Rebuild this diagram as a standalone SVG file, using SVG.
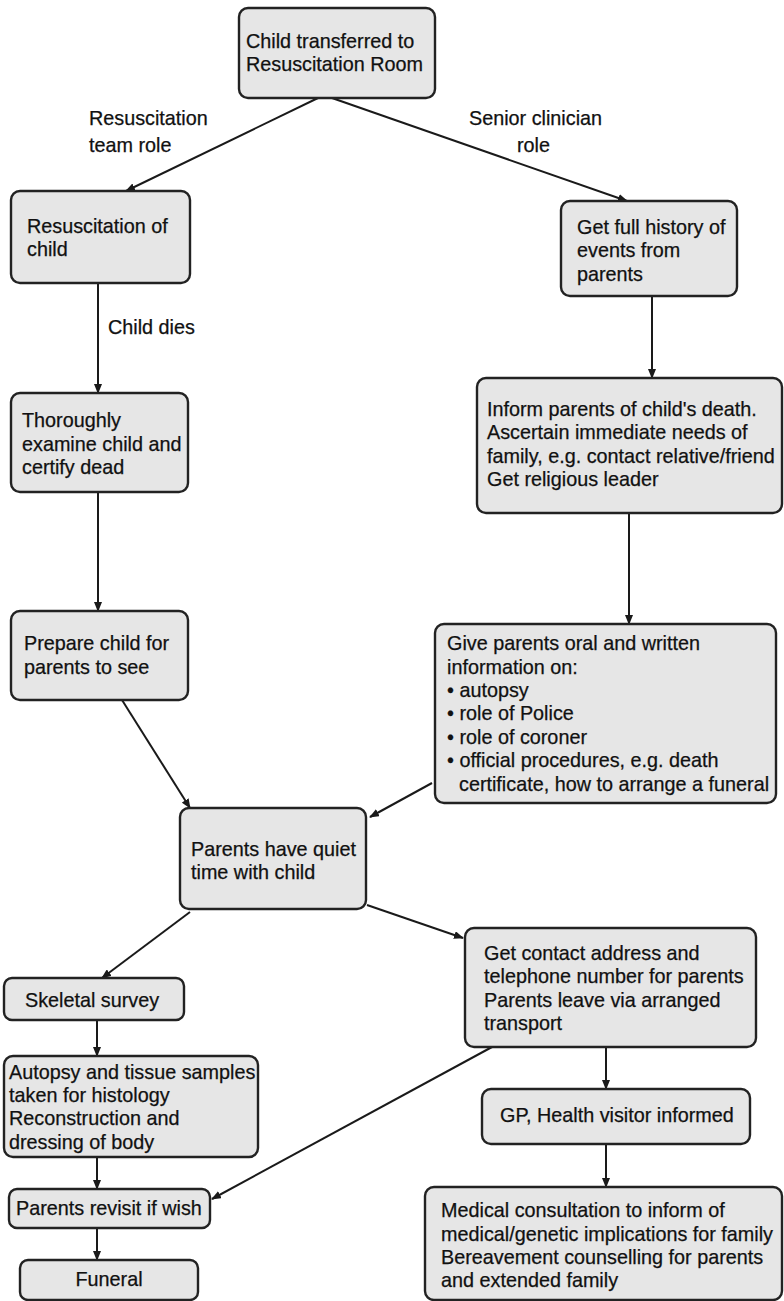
<svg xmlns="http://www.w3.org/2000/svg" width="784" height="1301" viewBox="0 0 784 1301">
<defs>
<marker id="ah" markerWidth="10" markerHeight="8" refX="9" refY="4" orient="auto" markerUnits="userSpaceOnUse">
<path d="M0,0 L10,4 L0,8 Z" fill="#1a1a1a"/>
</marker>
<style>
.box{fill:#e6e6e6;stroke:#222;stroke-width:2.4}
text{font-family:"Liberation Sans",Arial,sans-serif;font-size:19.8px;fill:#111;stroke:#111;stroke-width:0.25}
.c line{stroke:#1a1a1a;stroke-width:2;marker-end:url(#ah)}
</style>
</defs>
<rect width="784" height="1301" fill="#fff"/>
<g id="connectors" class="c">
<line x1="318" y1="98" x2="126" y2="191"/>
<line x1="332" y1="98" x2="627" y2="201"/>
<line x1="98" y1="283" x2="98" y2="393"/>
<line x1="98" y1="492" x2="98" y2="611"/>
<line x1="652" y1="296" x2="652" y2="378"/>
<line x1="629" y1="513" x2="629" y2="624"/>
<line x1="122" y1="700" x2="190" y2="808"/>
<line x1="432" y1="783" x2="370" y2="817"/>
<line x1="367" y1="905" x2="463" y2="938"/>
<line x1="190" y1="912" x2="102" y2="978"/>
<line x1="97" y1="1020" x2="97" y2="1056"/>
<line x1="97" y1="1157" x2="97" y2="1189"/>
<line x1="97" y1="1228" x2="97" y2="1260"/>
<line x1="492" y1="1047" x2="212" y2="1199"/>
<line x1="606" y1="1047" x2="606" y2="1089"/>
<line x1="606" y1="1144" x2="606" y2="1187"/>
</g>
<g id="labels">
<text x="89" y="125">Resuscitation</text>
<text x="89" y="152">team role</text>
<text x="469" y="125">Senior clinician</text>
<text x="517" y="152">role</text>
<text x="108" y="334">Child dies</text>
</g>
<g id="n-top"><rect class="box" x="239" y="8" width="196" height="90" rx="9"/>
<text x="246" y="48">Child transferred to</text><text x="246" y="71">Resuscitation Room</text></g>
<g id="n-resus"><rect class="box" x="11" y="191" width="179" height="92" rx="9"/>
<text x="27" y="233">Resuscitation of</text><text x="27" y="256">child</text></g>
<g id="n-history"><rect class="box" x="561" y="201" width="176" height="95" rx="9"/>
<text x="577" y="234">Get full history of</text><text x="577" y="257">events from</text><text x="577" y="281">parents</text></g>
<g id="n-examine"><rect class="box" x="11" y="393" width="177" height="99" rx="9"/>
<text x="22" y="427">Thoroughly</text><text x="22" y="451">examine child and</text><text x="22" y="474">certify dead</text></g>
<g id="n-prepare"><rect class="box" x="11" y="611" width="177" height="89" rx="9"/>
<text x="24" y="650">Prepare child for</text><text x="24" y="674">parents to see</text></g>
<g id="n-inform"><rect class="box" x="477" y="378" width="305" height="135" rx="9"/>
<text x="487" y="416">Inform parents of child's death.</text><text x="487" y="439">Ascertain immediate needs of</text><text x="487" y="463">family, e.g. contact relative/friend</text><text x="487" y="486">Get religious leader</text></g>
<g id="n-give"><rect class="box" x="435" y="624" width="341" height="179" rx="9"/>
<text x="447" y="650">Give parents oral and written</text><text x="447" y="674">information on:</text>
<text x="447" y="697">• autopsy</text><text x="447" y="720">• role of Police</text><text x="447" y="744">• role of coroner</text><text x="447" y="767">• official procedures, e.g. death</text><text x="459" y="791">certificate, how to arrange a funeral</text></g>
<g id="n-quiet"><rect class="box" x="180" y="808" width="186" height="101" rx="9"/>
<text x="191" y="856">Parents have quiet</text><text x="191" y="879">time with child</text></g>
<g id="n-contact"><rect class="box" x="465" y="928" width="291" height="119" rx="9"/>
<text x="484" y="960">Get contact address and</text><text x="484" y="983">telephone number for parents</text><text x="484" y="1007">Parents leave via arranged</text><text x="484" y="1030">transport</text></g>
<g id="n-skeletal"><rect class="box" x="4" y="978" width="180" height="42" rx="8"/>
<text x="25" y="1007">Skeletal survey</text></g>
<g id="n-autopsy"><rect class="box" x="4" y="1056" width="254" height="101" rx="9"/>
<text x="9" y="1079">Autopsy and tissue samples</text><text x="9" y="1102">taken for histology</text><text x="9" y="1125">Reconstruction and</text><text x="9" y="1149">dressing of body</text></g>
<g id="n-revisit"><rect class="box" x="9" y="1189" width="201" height="39" rx="8"/>
<text x="16" y="1215">Parents revisit if wish</text></g>
<g id="n-funeral"><rect class="box" x="20" y="1260" width="178" height="40" rx="8"/>
<text x="109" y="1286" text-anchor="middle">Funeral</text></g>
<g id="n-gp"><rect class="box" x="482" y="1089" width="268" height="55" rx="9"/>
<text x="500" y="1122">GP, Health visitor informed</text></g>
<g id="n-medical"><rect class="box" x="425" y="1187" width="357" height="113" rx="9"/>
<text x="441" y="1217">Medical consultation to inform of</text><text x="441" y="1241">medical/genetic implications for family</text><text x="441" y="1264">Bereavement counselling for parents</text><text x="441" y="1287">and extended family</text></g>
</svg>
